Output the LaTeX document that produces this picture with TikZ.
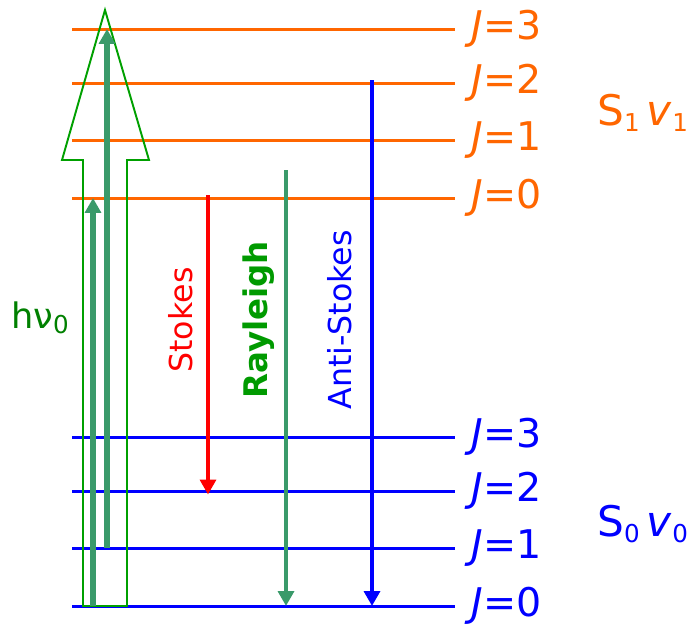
\documentclass[tikz,border=0pt]{standalone}
\usepackage{fontspec}
\setmainfont{DejaVu Sans}
\usetikzlibrary{arrows.meta}
\definecolor{excitedorange}{RGB}{255,102,0}
\definecolor{groundblue}{RGB}{0,0,255}
\definecolor{stokesred}{RGB}{255,0,0}
\definecolor{arrowgreen}{RGB}{58,154,106}
\definecolor{photongreen}{RGB}{0,160,0}
\definecolor{labelgreen}{RGB}{0,128,0}
\newcommand{\lowsub}[1]{\raisebox{-0.25ex}{\fontsize{14}{14}\selectfont #1}}

\begin{document}
\begin{tikzpicture}[x=0.02cm,y=-0.02cm,
  level/.style={line width=1.7pt},
  jlabel/.style={anchor=west, inner sep=0pt, font=\fontsize{22.5}{22.5}\selectfont},
  statelabel/.style={anchor=west, inner sep=0pt, font=\fontsize{24}{24}\selectfont},
  transition/.style={line width=2.7pt, -{Triangle[length=8.5pt,width=9pt]}},
  translabel/.style={rotate=90, inner sep=0pt, font=\fontsize{18}{18}\selectfont}]
  \useasboundingbox (0,0) rectangle (696,627);
  % rotational levels of S1 and S0
  \foreach \y/\j/\name in {29/3/u3, 83/2/u2, 140/1/u1, 198/0/u0} {
    \coordinate (\name-l) at (72,\y);
    \coordinate (\name-r) at (455,\y);
    \draw[level, excitedorange] (\name-l) -- (\name-r);
    \node[jlabel, text=excitedorange] (\name-lab) at (471,\y) {\textit{J}=\j};
  }
  \foreach \y/\j/\name in {437/3/g3, 491/2/g2, 548/1/g1, 606/0/g0} {
    \coordinate (\name-l) at (72,\y);
    \coordinate (\name-r) at (455,\y);
    \draw[level, groundblue] (\name-l) -- (\name-r);
    \node[jlabel, text=groundblue] (\name-lab) at (471,\y) {\textit{J}=\j};
  }
  \node[statelabel, text=excitedorange] (s1) at (597,113) {S\lowsub{1}\,\textit{v}\lowsub{1}};
  \node[statelabel, text=groundblue] (s0) at (597,524) {S\lowsub{0}\,\textit{v}\lowsub{0}};
  % incoming photon
  \draw[photongreen, line width=1.1pt] (83,606) -- (83,160) -- (62,160) -- (105,10)
    -- (149,160) -- (127,160) -- (127,606) -- cycle;
  \node[text=labelgreen, inner sep=0pt, font=\fontsize{20}{20}\selectfont] (hnu) at (40,318) {hν\lowsub{0}};
  % absorption
  \coordinate (abs0) at (93,606);
  \coordinate (abs1) at (107,548);
  \draw[transition, arrowgreen, line width=2.9pt] (abs0) -- (abs0 |- u0-l);
  \draw[transition, arrowgreen, line width=2.9pt] (abs1) -- (abs1 |- u3-l);
  % emission
  \coordinate (stokes) at (208,195);
  \coordinate (rayleigh) at (286,170);
  \coordinate (antistokes) at (372,80);
  \draw[transition, stokesred] (stokes) -- ([yshift=-2pt]stokes |- g2-l);
  \draw[transition, arrowgreen] (rayleigh) -- (rayleigh |- g0-l);
  \draw[transition, groundblue] (antistokes) -- (antistokes |- g0-l);
  \node[translabel, text=stokesred] (stokes-lab) at (181,320) {Stokes};
  \node[translabel, text=labelgreen!80!green, font=\fontsize{18.5}{18.5}\selectfont\bfseries] (rayleigh-lab) at (259,320) {Rayleigh};
  \node[translabel, text=groundblue] (antistokes-lab) at (340,320) {Anti-Stokes};
\end{tikzpicture}
\end{document}
